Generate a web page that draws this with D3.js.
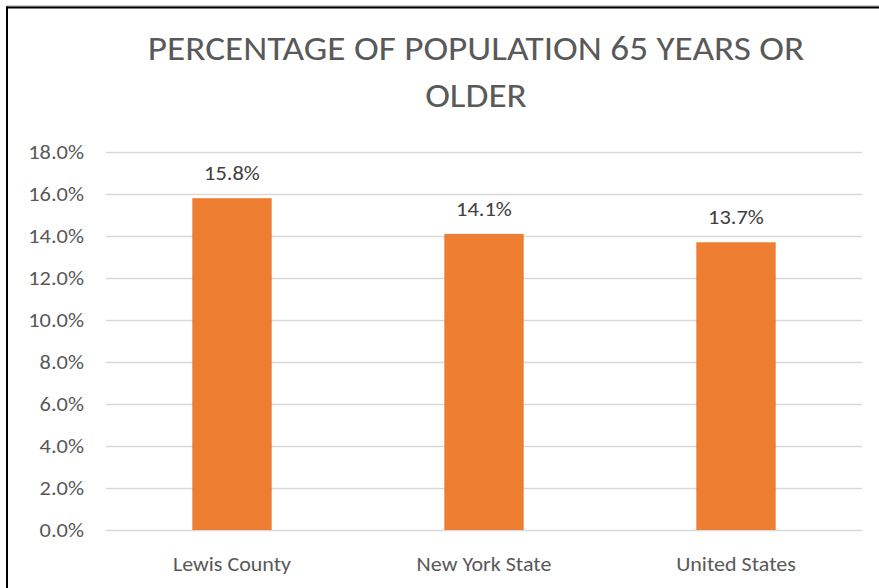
<!DOCTYPE html>
<html><head><meta charset="utf-8">
<script src="https://cdn.jsdelivr.net/npm/d3@7"></script>
<style>body{margin:0;background:#fff;}svg{display:block;}</style>
</head><body>
<script>
const categories = ["Lewis County", "New York State", "United States"];
const values = [15.8, 14.1, 13.7];
const yTicks = [0, 2, 4, 6, 8, 10, 12, 14, 16, 18];
const titleLines = ["PERCENTAGE OF POPULATION 65 YEARS OR", "OLDER"];

const W = 879, H = 588;
const font = "Carlito, Lato, sans-serif";
const sx = 1.15;
const svg = d3.select("body").append("svg").attr("width", W).attr("height", H);
svg.append("rect").attr("width", W).attr("height", H).attr("fill", "#fff");
// frame
svg.append("line").attr("x1", 7).attr("x2", W).attr("y1", 6).attr("y2", 6).attr("stroke", "#999").attr("stroke-width", 1);
svg.append("line").attr("x1", 6).attr("x2", W).attr("y1", 7.5).attr("y2", 7.5).attr("stroke", "#000").attr("stroke-width", 2);
svg.append("line").attr("x1", 7).attr("x2", 7).attr("y1", 6.5).attr("y2", H).attr("stroke", "#000").attr("stroke-width", 2);

const x = d3.scaleBand().domain(categories).range([106, 862]).padding(0);
const y = d3.scaleLinear().domain([0, 18]).range([530, 152]);

// title
svg.append("g").selectAll("text").data(titleLines).join("text")
  .attr("transform", (d, i) => `translate(476,${60 + i * 47}) scale(1.065,1)`)
  .attr("text-anchor", "middle").attr("fill", "#595959")
  .style("font-family", font).style("font-size", "35px")
  .text(d => d);

// grid
svg.append("g").selectAll("line").data(yTicks).join("line")
  .attr("x1", 106).attr("x2", 862)
  .attr("y1", d => Math.round(y(d)) + 0.5).attr("y2", d => Math.round(y(d)) + 0.5)
  .attr("stroke", "#d9d9d9").attr("stroke-width", 1.5);

// y axis labels
const yAxis = d3.axisLeft(y).tickValues(yTicks).tickSize(0).tickPadding(0).tickFormat(d => d.toFixed(1) + "%");
const ga = svg.append("g").attr("transform", "translate(84,0)").call(yAxis);
ga.select(".domain").remove();
ga.selectAll("text").attr("fill", "#595959").attr("dy", "0.35em").attr("transform", `scale(${sx},1)`)
  .style("font-family", font).style("font-size", "19.5px");

// bars
const bw = x.bandwidth() * 0.315;
svg.append("g").selectAll("rect").data(values).join("rect")
  .attr("x", (d, i) => x(categories[i]) + x.bandwidth() / 2 - bw / 2)
  .attr("width", bw)
  .attr("y", d => y(d)).attr("height", d => y(0) - y(d))
  .attr("fill", "#ed7d31");

// value labels
svg.append("g").selectAll("text").data(values).join("text")
  .attr("transform", (d, i) => `translate(${x(categories[i]) + x.bandwidth() / 2},${y(d) - 18}) scale(${sx},1)`)
  .attr("text-anchor", "middle").attr("fill", "#404040")
  .style("font-family", font).style("font-size", "19.5px")
  .text(d => d.toFixed(1) + "%");

// x labels
const xAxis = d3.axisBottom(x).tickSize(0).tickPadding(0);
const gx = svg.append("g").attr("transform", "translate(0,571)").call(xAxis);
gx.select(".domain").remove();
gx.selectAll("text").attr("dy", 0).attr("transform", "scale(1.13,1)").attr("fill", "#595959")
  .style("font-family", font).style("font-size", "19.5px");
</script>
</body></html>
